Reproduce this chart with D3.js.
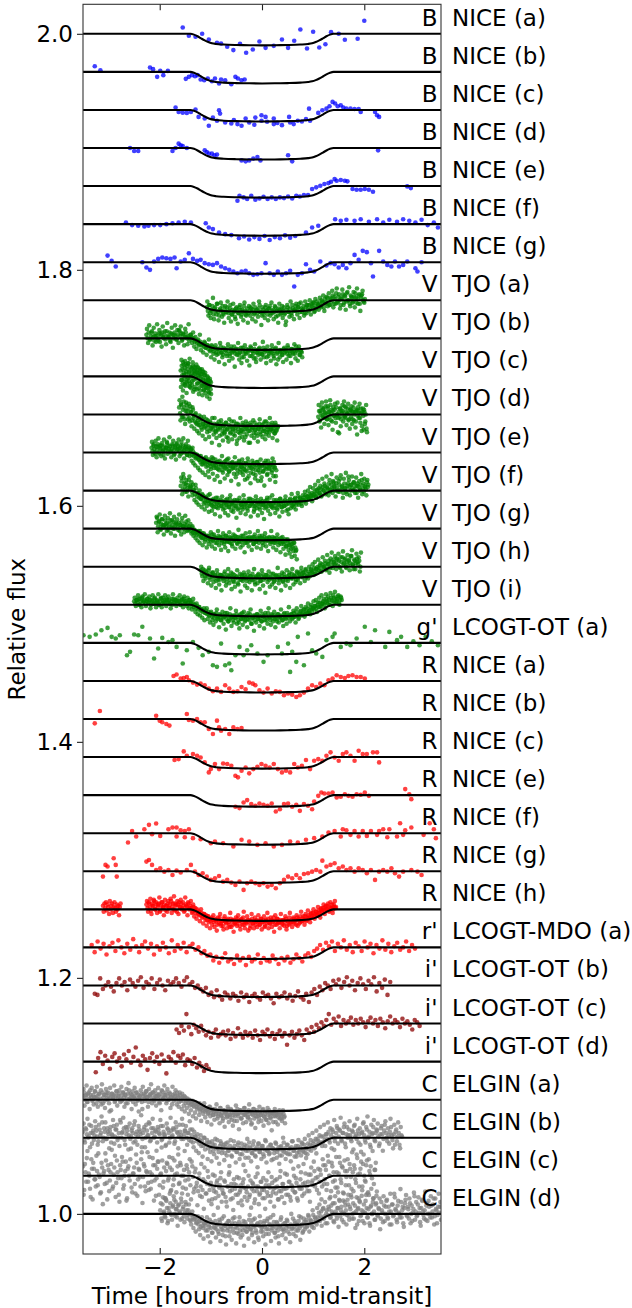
<!DOCTYPE html>
<html>
<head>
<meta charset="utf-8">
<script src="https://cdn.jsdelivr.net/npm/d3@7"></script>
<style>
  body { margin: 0; background: #fff; }
  svg { display: block; }
  text { font-family: "DejaVu Sans", sans-serif; fill: #000; }
</style>
</head>
<body>
<svg id="chart" width="632" height="1308"></svg>
<script>
// ---- Light-curve labels (top to bottom) ----
const bands = ["B","B","B","B","B","B","B",
  "V","V","V","V","V","V","V","V","V",
  "g'","R","R","R","R","R","R","R","r'","i'","i'","i'","C","C","C","C"];
const sites = ["NICE (a)","NICE (b)","NICE (c)","NICE (d)","NICE (e)","NICE (f)","NICE (g)",
  "TJO (a)","TJO (b)","TJO (c)","TJO (d)","TJO (e)","TJO (f)","TJO (g)","TJO (h)","TJO (i)",
  "LCOGT-OT (a)","NICE (a)","NICE (b)","NICE (c)","NICE (e)","NICE (f)","NICE (g)","NICE (h)",
  "LCOGT-MDO (a)","LCOGT-OT (b)","LCOGT-OT (c)","LCOGT-OT (d)",
  "ELGIN (a)","ELGIN (b)","ELGIN (c)","ELGIN (d)"];
const bandColor = { "B": "#0000ff", "V": "#008000", "g'": "#008000", "R": "#ff0000",
  "r'": "#ff0000", "i'": "#8b0000", "C": "#808080" };

// ---- Axis ticks ----
const xTicks = [-2, 0, 2];
const yTicks = [1.0, 1.2, 1.4, 1.6, 1.8, 2.0];

// ---- Best-fit transit model: hours from mid-transit, flux change (ppt) ----
const modelHours = [-3.6,-1.40,-1.33,-1.26,-1.19,-1.12,-1.05,-0.98,-0.90,-0.75,-0.50,-0.25,0,
  0.25,0.50,0.75,0.90,0.98,1.05,1.12,1.19,1.26,1.33,1.40,3.6];
const modelPpt = [0,0,-0.7,-2.1,-3.9,-5.6,-7.0,-8.0,-8.6,-9.1,-9.5,-9.7,-9.8,
  -9.7,-9.5,-9.1,-8.6,-8.0,-7.0,-5.6,-3.9,-2.1,-0.7,0,0];

// Evenly cadenced exposures: first time (h), cadence (h), flux change (ppt)
function series(start, step, ppt) { return ppt.map((f, k) => [start + k * step, f]); }

// ---- Photometry: [hours, ppt] ----
const bNiceA = [[-1.55,5.4],[-1.43,-1.7],[-1.30,-2.5],[-1.17,0],[-1.04,-4.8],[-0.88,-7.6],[-0.80,-8.2],[-0.68,-11],[-0.56,-13.8],[-0.43,-8.5],[-0.31,-16],[-0.18,-13.3],[-0.05,-6.5],[0.07,-11.9],[0.23,-10.2],[0.39,-4.8],[0.51,-11.9],[0.63,-5.9],[0.75,3.7],[0.88,-12.4],[1.00,1.7],[1.12,-11.6],[1.24,-8.8],[1.35,1.4],[1.50,0],[1.62,-5.1],[1.87,-4.2],[2.00,11]];
const bNiceB = [[-3.27,4.8],[-3.16,1.4],[-2.19,3.7],[-2.13,2.3],[-2.05,-4.2],[-1.99,0.8],[-1.93,-2.8],[-1.84,0.8],[-1.49,-5.9],[-1.43,-4.2],[-1.37,-2.8],[-1.31,-3.7],[-1.26,-2.8],[-1.20,-6.5],[-1.13,-7.1],[-1.06,-5.6],[-0.98,-7.9],[-0.92,-5.6],[-0.84,-9.9],[-0.80,-6.5],[-0.72,-7.1],[-0.60,-10.5],[-0.52,-4.2],[-0.47,-5.6],[-0.40,-7.1],[-0.34,-6.5]];
const bNiceC = [[-1.69,2],[-1.63,-1.7],[-1.55,-2.3],[-1.47,-2.5],[-1.39,-1.7],[-1.30,0.3],[-1.24,-5.9],[-1.12,-7.3],[-0.96,-6.5],[-0.84,-0.3],[-0.82,-3.1],[-1.04,-13.4],[-0.88,-9.2],[-0.72,-10.6],[-0.6,-11.5],[-0.55,-8.5],[-0.48,-12],[-0.40,-13.4],[-0.25,-10.6],[-0.15,-12.5],[-0.01,-9.2],[0.1,-10],[0.23,-12],[0.3,-11],[0.39,-12.9],[0.55,-10.6],[0.62,-12],[0.70,-9.2],[0.78,-9.8],[0.86,-7.8],[0.94,-9.2],[-0.32,-7.3],[-0.13,-6.5],[-0.01,-4.5],[0.07,-5.9],[0.23,-7.3],[0.53,-5.9],[0.92,1.1],[1.10,-2.5],[1.18,-0.3],[1.26,1.1],[1.32,3.1],[1.38,6.8],[1.43,5.4],[1.48,3.1],[1.54,4],[1.59,2],[1.65,1.1],[1.73,1.1],[1.81,0.8],[1.89,0.8],[1.93,-1.7],[2.21,-1.7],[2.25,-4.5],[2.29,-5.9]];
const bNiceD = [[-2.58,0],[-2.50,-2.5],[-2.42,-2.5],[-1.75,-2.5],[-1.69,0],[-1.63,3.7],[-1.59,2.3],[-1.55,1.7],[-1.47,0],[-1.12,-2],[-1.08,-3.4],[-1.04,-4.8],[-0.98,-4.8],[-0.93,-6.2],[-0.88,-5.6],[-0.40,-10.5],[-0.32,-11.3],[-0.25,-10.5],[-0.17,-9],[-0.09,-7.6],[-0.03,-10.5],[0.51,-6.2],[0.59,-11.3],[2.27,-2]];
const bNiceE = [[-0.48,-12.4],[-0.44,-8.2],[-0.36,-9.6],[-0.29,-11],[-0.21,-8.2],[-0.13,-11.6],[-0.05,-10.5],[0.03,-9],[0.11,-11],[0.19,-9.6],[0.27,-11],[0.35,-9.6],[0.43,-10.2],[0.51,-8.8],[0.59,-10.5],[0.67,-8.2],[0.74,-8.8],[0.82,-7.6],[0.90,-7.6],[0.98,-2.5],[1.06,-1.1],[1.14,0.3],[1.22,1.7],[1.30,2.5],[1.35,3.7],[1.42,5.9],[1.46,4.5],[1.54,5.1],[1.62,4.5],[1.67,4],[1.77,-2.5],[1.85,-3.1],[1.93,-3.1],[2.01,-2.5],[2.09,-3.1],[2.17,-4.8],[2.84,-0.3],[2.91,-1.7]];
const bNiceF = [[-2.66,1.4],[-2.54,-0.8],[-2.42,-1.4],[-2.30,-2],[-2.22,-1.4],[-2.11,-0.8],[-1.99,-0.8],[-1.87,0],[-1.75,0.8],[-1.63,1.4],[-1.51,2],[-1.39,1.4],[-1.10,0.8],[-1.04,-2.8],[-0.96,-4.2],[-0.84,-7.1],[-0.72,-8.5],[-0.60,-9.3],[-0.45,-12],[-0.35,-10.5],[-0.25,-13],[-0.15,-11],[-0.05,-12.5],[0.05,-10],[0.15,-13.5],[0.25,-11],[0.35,-12],[0.45,-9.5],[0.55,-11.5],[0.65,-10],[0.86,-7.1],[0.98,-2.8],[1.10,-1.4],[1.43,4.2],[1.54,2.8],[1.65,3.7],[1.81,2.8],[1.93,4.2],[2.09,2],[2.25,4.2],[2.37,1.4],[2.49,3.7],[2.64,2],[2.76,4.2],[2.88,2.8],[3.00,1.4],[3.12,3.7],[3.24,-0.8],[3.36,1.4],[3.44,-2.8]];
const bNiceG = [[-3.02,5.6],[-2.94,1.1],[-2.86,-3.7],[-2.34,0],[-2.26,-4.5],[-2.19,-6.5],[-2.11,0.6],[-2.03,2.8],[-1.95,4.0],[-1.87,3.4],[-1.79,2.8],[-1.71,4.0],[-1.67,-5.1],[-1.59,0.6],[-1.51,2.0],[-1.43,7.6],[-1.35,2.8],[-1.27,1.1],[-1.20,2.0],[-1.12,-0.8],[-1.04,-1.7],[-0.96,-2.3],[-0.88,-0.8],[-0.80,-3.7],[-0.72,-5.1],[-0.64,-6.5],[-0.56,-7.9],[-0.48,-9.3],[-0.40,-7.9],[-0.32,-7.3],[-0.25,-9.3],[-0.17,-10.7],[-0.09,-10.2],[-0.01,-9.3],[0.07,-0.8],[0.15,-9.3],[0.23,-10.7],[0.31,-7.9],[0.39,-10.7],[0.47,-9.3],[0.55,-7.3],[0.63,-20.6],[0.70,-10.7],[0.78,-9.3],[0.86,-1.7],[0.94,-6.5],[1.02,-7.9],[1.14,0.6],[1.26,-2.8],[1.34,-0.8],[1.42,-1.7],[1.50,-4.5],[1.58,-2.3],[1.65,-5.1],[1.73,-0.8],[1.81,6.2],[1.89,2.0],[1.97,9.6],[2.05,8.5],[2.13,-0.8],[2.17,-12.1],[2.29,9.6],[2.37,0.6],[2.45,-2.3],[2.53,-3.7],[2.60,0.6],[2.68,-3.7],[2.76,-2.3],[2.84,0.6],[3.00,-5.1],[3.04,-7.9],[3.12,0]];

const tjoA = series(-1.08, 0.022, [
  -6,-9,-4,-11,-8,-5,-12,-7,-9,-3, -10,-13,-7,-9,-5,-12,-8,-10,-6,-11,
  -9,-4,-12,-8,-10,-14,-7,-9,-11,-6, -8,-12,-10,-5,-9,-13,-7,-11,-9,-6,
  -10,-8,-12,-6,-9,-11,-7,-4,-10,-13, -8,-10,-6,-9,-12,-7,-5,-11,-9,-8,
  -10,-6,-9,-13,-7,-8,-11,-5,-9,-12, -21,-8,-6,-10,-7,-11,-4,-9,-8,-5,
  -9,-6,-3,-10,-7,-8,-5,-11,-6,-4, -7,-4,-8,-3,-6,-2,-9,-5,-1,-4,
  -3,-5,0,-2,-6,1,-3,2,-1,-4, 2,-1,4,-3,1,6,-2,3,0,-4,
  1,5,-2,3,-1,7,0,-3,4,2, -1,3,6,-2,1,4,-3,2,5,0, -2])
  .concat(series(-1.069, 0.022, [
  -1,-13,-4,-15,-9,2,-16,-6,-12,-3, -17,-8,-2,-14,-11,-19,-5,-10,-1,-15,
  -7,-18,-12,-3,-9,-16,-6,-20,-11,-4, -14,-8,-17,-2,-12,-10,-19,-5,-13,-7,
  -16,-3,-11,-18,-8,-14,-1,-10,-21,-6, -12,-15,-4,-9,-17,-7,-13,-2,-11,-16,
  -5,-14,-9,-19,-3,-12,-8,-15,-6,-11, -18,-4,-10,-14,-1,-13,-7,-16,-9,-3,
  -12,-6,-15,-2,-10,-8,-13,-1,-11,-4, -9,0,-12,-5,-2,-10,1,-7,-3,-8,
  2,-6,-1,4,-9,-2,3,-5,6,-4, 1,8,-6,3,-3,10,-1,5,-7,2,
  9,-4,4,-8,6,0,11,-5,3,-2, 7,-6,2,10,-3,5,-9,4,8,-1, 1]));
const tjoB = series(-2.26, 0.022, [
  3,0,5,-1,2,6,1,-2,4,2, 0,4,-3,2,5,1,3,-1,6,2, 1,-2,4,3,0,5,2,-1,3,7,
  2,4,-1,3,1,5,0,2,-2,3, 1,-1,0,-3,-2,-4,-1,-5,-3,-6, -5,-7,-4,-8,-6,-9,-7,-10,-6,-9,
  -11,-8,-12,-9,-13,-10,-7,-12,-14,-9, -10,-13,-8,-11,-15,-9,-12,-10,-7,-13,
  -11,-9,-14,-12,-8,-16,-10,-13,-11,-9, -12,-10,-15,-8,-11,-13,-9,-17,-12,-10,
  -9,-13,-11,-14,-8,-12,-10,-16,-11,-13, -10,-12,-9,-15,-11,-8,-13,-18,-10,-12,
  -11,-14,-9,-12,-10,-13,-8,-11,-15,-9, -12,-10,-13,-7,-11,-9,-14,-10,-12])
  .concat(series(-2.249, 0.022, [
  8,-4,11,-1,5,-6,9,2,-3,12, -2,7,4,-7,10,0,6,-5,13,1, 5,-3,9,-8,3,11,-1,7,-4,6,
  10,-2,4,-6,8,1,-5,12,0,3, -4,5,-7,1,-9,-2,-6,3,-10,-5, -12,-3,-8,-14,-6,-1,-11,-16,-7,-13,
  -18,-6,-14,-9,-20,-4,-12,-16,-8,-22, -10,-15,-5,-19,-13,-7,-17,-11,-24,-9,
  -14,-4,-18,-12,-21,-8,-16,-6,-13,-19, -10,-23,-7,-15,-11,-17,-5,-20,-12,-14,
  -8,-18,-13,-3,-16,-10,-21,-7,-15,-11, -19,-6,-13,-17,-9,-22,-12,-4,-16,-10,
  -14,-20,-8,-11,-18,-6,-15,-12,-21,-9, -13,-5,-17,-10,-19,-7,-14,-11,-16]));
const tjoC = series(-1.59, 0.01, [
  5,-3,9,1,-6,12,3,-2,7,-8, 10,2,-5,6,-1,11,-4,4,-9,8, 0,6,-7,3,9,-3,5,-11,2,7,
  -2,4,-6,8,1,-10,3,-4,6,-1, -5,2,-8,4,-3,-12,1,-6,3,-9, -4,-7,0,-10,-3,-6,-14,-2,-8,-5])
  .concat(series(-1.585, 0.01, [
  -9,14,-3,6,-12,10,1,-7,13,-5, 4,-14,9,-2,11,-8,3,15,-6,0, -10,7,-4,12,-13,2,8,-9,5,-1,
  10,-11,3,-6,7,-15,0,5,-12,2, -8,6,-16,-2,4,-11,-7,1,-14,-3, -10,-17,-5,-1,-13,-8,-19,-4,-11,-15]));
const tjoD = series(-1.62, 0.018, [
  6,1,9,-2,4,11,-4,3,8,0, 5,-3,7,2,-5,4,-1,-6,1,-8, -3,-9,-1,-6,-11,-4,-8,-2,-10,-7,
  -12,-5,-9,-14,-7,-11,-3,-13,-8,-10, -15,-9,-12,-6,-18,-11,-8,-14,-10,-16,
  -12,-7,-13,-20,-9,-11,-15,-6,-12,-17, -10,-14,-8,-22,-12,-9,-16,-11,-13,-7,
  -15,-10,-19,-12,-8,-14,-11,-24,-9,-13, -11,-16,-7,-13,-10,-18,-12,-8,-15,-11,
  -9,-14,-12,-6,-17,-10,-13,-8,-15,-11, -12,-7,-14,-10,-16,-9,-13,-11])
  .concat(series(-1.611, 0.018, [
  12,-5,8,15,-2,6,-8,10,3,-4, 9,-6,2,-10,6,-3,-12,0,-7,-14, -5,-16,-9,-2,-13,-18,-8,-11,-21,-4,
  -15,-9,-19,-6,-12,-24,-10,-17,-3,-14, -20,-8,-13,-26,-11,-5,-17,-22,-9,-15,
  -7,-19,-12,-23,-4,-16,-10,-21,-13,-6, -18,-11,-25,-8,-15,-20,-3,-14,-19,-9,
  -22,-12,-6,-17,-10,-24,-14,-7,-18,-11, -5,-20,-13,-16,-9,-23,-12,-4,-17,-10,
  -19,-8,-14,-21,-6,-15,-11,-18,-3,-13, -9,-20,-12,-16,-7,-14,-22,-10]))
  .concat(series(1.10, 0.016, [
  -2,3,-5,1,6,-1,4,-3,2,7, 0,-4,5,2,-2,8,1,-6,3,-1, 4,-3,6,0,-15,2,-2,5,-4,1,
  3,-1,7,-3,2,0,5,-5,1,4, -2,3,-4,6,0,2,-6,4,-1,3, 1,-3,5,-14,2,-1,4,-8,0,-12]))
  .concat(series(1.108, 0.016, [
  8,-6,3,-11,10,-2,5,-8,1,11, -4,7,-9,2,12,-5,4,-13,6,-1, 9,-7,0,10,-3,-16,5,-10,3,8,
  -6,11,-2,6,-9,1,9,-4,-12,4, 7,-8,2,-5,10,-11,3,-17,6,-3, 9,-7,1,-10,5,-13,2,-6,8,-15]));
const tjoE = series(-2.16, 0.018, [
  4,1,6,3,-1,5,2,7,0,4, 3,6,1,-2,5,2,4,8,1,3, 5,0,3,6,2,-1,4,7,2,5,
  1,4,-1,3,6,2,0,5,3,-2, 2,4,0,3,-2,1,-3,-1,-5,-2, -4,-6,-3,-8,-5,-7,-10,-6,-9,-4,
  -8,-11,-6,-9,-12,-7,-10,-5,-13,-9, -11,-8,-14,-10,-7,-12,-9,-15,-11,-8,
  -13,-10,-6,-12,-16,-9,-11,-14,-8,-12, -10,-13,-9,-18,-11,-7,-14,-10,-12,-16,
  -9,-12,-15,-10,-22,-8,-13,-11,-17,-10, -14,-9,-12,-19,-11,-8,-15,-10,-13,-24,
  -11,-16,-9,-13,-7,-12,-18,-10,-14,-11, -9,-15,-12,-8,-13,-20])
  .concat(series(-2.151, 0.018, [
  9,-2,7,0,10,-4,5,12,-1,6, -3,8,2,11,-5,4,9,-1,6,13, 1,-4,7,10,-2,5,-6,8,3,11,
  -3,6,9,0,12,-5,4,7,-2,10, 5,-3,2,-7,4,-9,-1,-11,-4,-2, -13,-6,-15,-3,-10,-17,-8,-5,-19,-12,
  -7,-16,-21,-9,-14,-4,-18,-11,-23,-6, -13,-20,-8,-15,-25,-10,-3,-17,-12,-22,
  -7,-14,-19,-5,-16,-11,-24,-9,-13,-18, -4,-21,-10,-15,-27,-8,-17,-12,-6,-19,
  -14,-23,-9,-16,-5,-20,-11,-26,-13,-7, -18,-10,-22,-15,-8,-24,-12,-17,-6,-21,
  -11,-16,-28,-9,-14,-19,-7,-13,-23,-10, -17,-5,-20,-12,-25,-15]));
const tjoF = series(-1.59, 0.02, [
  4,8,1,11,3,6,-1,5,9,2, 3,-1,5,0,-3,2,-5,-2,-6,-4, -7,-3,-8,-5,-10,-6,-9,-4,-11,-8,
  -10,-13,-7,-11,-9,-14,-6,-12,-10,-8, -13,-9,-11,-15,-8,-12,-10,-14,-7,-11,
  -12,-9,-15,-10,-13,-8,-16,-11,-9,-12, -14,-10,-8,-12,-11,-15,-9,-13,-7,-11,
  -10,-13,-16,-9,-12,-8,-11,-14,-10,-12, -9,-12,-15,-11,-8,-13,-10,-6,-12,-14,
  -11,-8,-13,-10,-15,-9,-12,-7,-11,-14, -10,-13,-8,-12,-9,-16,-11,-7,-10,-13,
  -8,-11,-6,-12,-9,-5,-10,-7,-11,-8, -6,-9,-4,-8,-5,-7,-3,-6,-2,-5,
  -4,-1,-5,0,-3,2,-2,1,-4,3, 0,4,-2,3,1,6,-1,5,2,8, 3,0,6,2,-1,5,10,1,4,-2,
  6,2,-1,4,12,3,0,5,2,7, 1,4,-2,6,3,0,5,9,2,-1, 4,1,7,3])
  .concat(series(-1.58, 0.02, [
  11,-3,14,6,-1,9,2,-5,12,4, 7,-4,1,-8,5,-10,-2,-12,0,-7, -14,-4,-11,-16,-6,-13,-9,-18,-3,-12,
  -17,-8,-14,-20,-6,-11,-15,-9,-22,-13, -5,-16,-10,-19,-12,-7,-21,-14,-4,-17,
  -11,-18,-8,-13,-23,-9,-15,-6,-19,-12, -16,-4,-14,-20,-10,-17,-7,-13,-22,-11,
  -8,-18,-13,-5,-15,-21,-10,-16,-7,-19, -12,-24,-9,-14,-6,-17,-11,-20,-13,-4,
  -15,-10,-19,-8,-16,-12,-22,-7,-14,-18, -9,-13,-5,-17,-11,-20,-8,-15,-3,-12,
  -14,-7,-16,-10,-2,-12,-6,-9,-13,-4, -8,-1,-11,-5,0,-7,3,-4,-9,2,
  -3,5,-6,1,8,-2,4,-5,10,0, 6,-3,12,2,-4,9,1,14,-2,7, 4,-5,11,0,8,-1,13,3,-6,10,
  2,15,-3,6,9,-4,5,12,0,7, -2,11,4,-6,8,1,14,-3,6,10, 3,-4,9,5]));
const tjoG = series(-2.07, 0.02, [
  5,9,2,6,0,4,8,1,3,7, 2,5,-1,4,7,1,3,6,0,3, 4,1,5,-2,3,6,2,0,4,1,
  3,-1,2,0,-2,1,-3,-1,-4,-2, -5,-3,-6,-2,-7,-4,-8,-5,-9,-6, -7,-10,-6,-8,-11,-5,-9,-7,-12,-8,
  -9,-6,-10,-8,-12,-7,-9,-11,-6,-10, -8,-11,-7,-9,-13,-8,-10,-6,-9,-12,
  -7,-10,-8,-11,-9,-6,-10,-12,-8,-9, -11,-7,-9,-8,-10,-13,-7,-9,-11,-8,
  -9,-6,-10,-8,-12,-9,-7,-11,-8,-10, -10,-8,-11,-9,-7,-12,-9,-10,-8,-11,
  -9,-12,-8,-10,-11,-13,-9,-15,-10,-12, -14,-11,-17,-13,-19,-12,-16,-18])
  .concat(series(-2.06, 0.02, [
  10,-3,6,12,-1,8,3,-5,11,4, -2,9,1,13,-4,7,0,10,-6,5, 8,-1,12,3,-5,9,2,-3,11,6,
  -2,7,0,4,-4,2,-6,-1,-8,-3, -10,-2,-12,-5,-8,-14,-4,-11,-7,-16, -6,-13,-9,-3,-15,-10,-5,-17,-8,-12,
  -2,-14,-7,-18,-10,-4,-13,-16,-6,-11, -19,-3,-12,-8,-15,-5,-10,-17,-7,-13,
  -1,-11,-16,-6,-14,-9,-20,-4,-12,-8, -15,-3,-10,-18,-7,-13,-5,-11,-16,-2,
  -12,-8,-17,-6,-14,-10,-4,-15,-9,-19, -7,-13,-2,-11,-16,-8,-12,-18,-5,-14,
  -10,-20,-13,-7,-17,-11,-22,-15,-9,-18, -21,-14,-24,-16,-12,-23,-19,-26]));
const tjoH = series(-1.20, 0.022, [
  -3,-6,-2,-5,-8,-4,-7,-3,-9,-6, -8,-5,-10,-7,-12,-6,-9,-11,-7,-8,
  -10,-6,-9,-13,-7,-8,-11,-5,-9,-12, -7,-10,-8,-14,-9,-6,-11,-8,-10,-7,
  -9,-12,-7,-10,-8,-11,-6,-9,-13,-8, -10,-7,-9,-12,-8,-6,-11,-9,-7,-10,
  -8,-11,-9,-6,-10,-13,-8,-7,-11,-9, -7,-10,-8,-12,-6,-9,-11,-8,-10,-5,
  -9,-6,-10,-7,-8,-11,-5,-9,-7,-4, -8,-5,-7,-3,-9,-6,-4,-8,-2,-5,
  -4,-1,-6,-2,0,-3,1,-4,2,-1, 0,3,-2,2,5,-1,4,1,6,2, 3,7,1,5,-1,4,8,2,6,0,
  4,1,6,3,9,2,-2,5,3,7, 2,5,0])
  .concat(series(-1.189, 0.022, [
  0,-8,-12,-3,-10,-6,-14,-1,-11,-16, -5,-13,-8,-18,-3,-11,-15,-7,-20,-9,
  -12,-4,-16,-10,-2,-14,-8,-19,-6,-13, -17,-9,-3,-15,-11,-21,-7,-12,-5,-16,
  -10,-18,-4,-13,-8,-20,-11,-2,-15,-9, -14,-6,-19,-12,-3,-16,-9,-22,-7,-13,
  -4,-17,-10,-15,-6,-12,-18,-8,-1,-14, -11,-20,-5,-13,-9,-16,-3,-12,-7,-18,
  -10,-2,-15,-8,-13,-4,-11,-6,-14,-1, -9,-5,-12,-2,-8,-10,0,-6,-3,2,
  -7,4,-2,-5,6,-1,3,-4,8,0, 5,-3,10,2,-5,7,12,-1,4,9, -2,6,11,0,8,-4,13,3,7,-1,
  10,5,-3,9,14,1,6,-2,11,4, 8,-4,12]));
const tjoI = series(-2.50, 0.022, [
  3,1,4,2,5,0,3,6,2,4, 1,3,5,2,4,0,3,1,5,2, 4,2,0,3,6,1,3,4,2,5,
  2,4,1,3,0,5,2,4,3,1, 3,0,4,2,5,1,3,-1,2,4, 1,-1,2,-2,0,-3,-1,-4,-2,-5,
  -4,-6,-3,-7,-5,-8,-6,-9,-7,-10, -8,-11,-9,-7,-12,-10,-8,-13,-9,-11,
  -10,-7,-12,-9,-14,-8,-11,-10,-13,-9, -11,-8,-10,-15,-9,-12,-7,-11,-10,-13,
  -9,-12,-10,-8,-16,-11,-9,-13,-10,-8, -12,-9,-11,-14,-8,-10,-13,-9,-11,-7,
  -10,-13,-8,-11,-9,-12,-10,-14,-8,-11, -9,-11,-13,-8,-10,-12,-7,-11,-9,-10,
  -8,-11,-7,-10,-6,-9,-12,-8,-5,-9, -7,-4,-8,-6,-3,-7,-5,-2,-6,-3,
  -4,-1,-3,0,-2,2,-1,1,3,0, 2,5,1,4,0,6,3,8,2,5, 3,7,1,4,6])
  .concat(series(-2.489, 0.022, [
  6,-1,4,8,0,5,-2,7,3,9, -1,5,2,7,-3,4,8,1,6,-2, 3,9,0,5,-2,6,2,8,-1,4,
  7,1,-3,5,9,2,4,-1,6,3, 8,0,5,-2,7,3,1,6,-3,4, 2,-4,5,0,-6,1,-8,-2,-9,-4,
  -11,-5,-13,-7,-3,-12,-9,-15,-6,-13, -17,-8,-14,-4,-11,-19,-9,-13,-6,-16,
  -10,-21,-7,-14,-12,-3,-18,-9,-15,-11, -5,-16,-13,-20,-8,-12,-17,-6,-14,-10,
  -19,-7,-13,-4,-16,-11,-22,-9,-15,-8, -12,-18,-5,-14,-10,-20,-7,-13,-16,-3,
  -11,-17,-9,-14,-6,-19,-12,-8,-15,-10, -4,-13,-18,-7,-11,-16,-9,-2,-14,-8,
  -12,-5,-10,-15,-3,-9,-11,-6,-1,-8, -4,-10,-2,-7,1,-5,-8,0,-3,3,
  -1,4,-6,2,6,-2,8,1,5,-3, 9,3,7,0,10,4,-1,6,11,2, 5,8,0,7,4]));

const otA = [[-3.49,6.5],[-3.37,5.1],[-3.25,7.1],[-3.14,10.7],[-3.02,12.7],[-2.94,5.1],[-2.86,3.7],[-2.78,6.5],[-2.64,-10.5],[-2.58,-7.6],[-2.50,7.1],[-2.42,6.5],[-2.34,13.6],[-2.19,3.7],[-2.11,-13.3],[-2.03,-4.8],[-1.95,4.2],[-1.83,0.8],[-1.75,2.3],[-1.67,-3.4],[-1.55,-17.5],[-1.47,-6.2],[-1.35,0.8],[-1.24,-4.2],[-1.16,-10.5],[-1.04,-7.6],[-0.96,-18.9],[-0.88,-20.3],[-0.80,-0.6],[-0.72,-18.9],[-0.64,-17.5],[-0.60,-23.2],[-0.52,-10.5],[-0.44,-3.4],[-0.36,-10.5],[-0.29,-6.2],[-0.21,-2.0],[-0.09,-9.0],[0.03,-16.1],[0.11,-10.5],[0.31,-3.4],[0.39,-9.0],[0.51,-0.6],[0.55,-24.6],[0.59,-7.6],[0.67,-16.1],[0.70,5.1],[0.82,-18.9],[0.90,7.9],[0.98,-6.2],[1.06,-9.0],[1.18,-11.9],[1.26,2.3],[1.38,5.1],[1.42,7.9],[1.54,-3.4],[1.65,-0.6],[1.73,-2.0],[1.85,3.7],[2.01,13.6],[2.13,0.8],[2.21,10.7],[2.41,-3.4],[2.49,9.3],[2.64,2.3],[2.72,5.1],[2.84,-3.4],[2.96,1.4],[3.08,-2.0],[3.20,5.1],[3.32,1.4],[3.44,-2.0]];
const rNiceA = [[-1.73,4.2],[-1.67,5.4],[-1.59,2.0],[-1.53,2.5],[-1.47,3.4],[-1.43,0.6],[-1.35,-1.4],[-1.27,-3.1],[-1.20,-2.3],[-1.12,-3.7],[-1.04,-6.5],[-0.96,-8.8],[-0.88,-6.5],[-0.80,-9.3],[-0.72,-3.7],[-0.64,-6.5],[-0.56,-9.3],[-0.48,-8.8],[-0.40,-5.1],[-0.32,-7.1],[-0.25,-1.4],[-0.18,-2.3],[-0.13,-3.7],[-0.05,-7.9],[0.03,-9.9],[0.11,-6.5],[0.19,-10.7],[0.27,-8.8],[0.35,-9.3],[0.43,-12.1],[0.51,-10.7],[0.59,-11.6],[0.67,-13.6],[0.74,-12.1],[0.82,-9.9],[0.90,-6.5],[0.98,-3.7],[1.06,-5.1],[1.14,-2.3],[1.22,-3.7],[1.30,0.6],[1.38,2.0],[1.46,4.8],[1.54,3.4],[1.62,2.5],[1.69,4.2],[1.77,4.8],[1.85,3.4],[1.93,3.4],[2.01,2.0]];
const rNiceB = [[-3.17,6.8],[-3.27,-3.7],[-2.07,2.8],[-2.00,-1.4],[-1.95,-2.8],[-1.87,-4.2],[-1.81,-5.6],[-1.47,4.2],[-1.43,-0.8],[-1.35,-1.4],[-1.27,0],[-1.20,-2.8],[-1.12,-2.8],[-1.04,-8.5],[-0.96,-12.7],[-0.88,-1.4],[-0.84,-7.1],[-0.80,-9.9],[-0.72,-8.5],[-0.64,-12.7],[-0.56,-7.1],[-0.48,-8.5],[-0.40,-7.6]];
const rNiceC = [[-1.71,-2.5],[-1.63,-1.7],[-1.53,4.8],[-1.47,1.1],[-1.35,2.5],[-1.27,1.1],[-1.20,-0.3],[-1.12,-4.5],[-1.04,-13.0],[-1.00,-10.2],[-0.92,-5.9],[-0.84,-10.2],[-0.76,-5.4],[-0.68,-5.9],[-0.60,-7.3],[-0.52,-15.8],[-0.47,-17.2],[-0.40,-11.6],[-0.32,-8.8],[-0.25,-13.8],[-0.17,-10.2],[-0.09,-8.2],[-0.01,-5.9],[0.07,-7.3],[0.15,-8.8],[0.23,-5.9],[0.31,-10.2],[0.39,-13.0],[0.47,-11.6],[0.55,-13.0],[0.63,-5.9],[0.70,-8.8],[0.78,-7.3],[0.86,-2.5],[0.94,-10.2],[1.02,-3.1],[1.10,-1.7],[1.18,-3.1],[1.26,1.1],[1.34,4.0],[1.42,-0.3],[1.50,-3.1],[1.58,2.5],[1.65,4.0],[1.73,1.1],[1.81,-3.1],[1.89,5.4],[1.97,2.5],[2.05,2.5],[2.17,4.0],[2.25,4.0],[2.29,-4.5]];
const rNiceE = [[-0.52,-9.9],[-0.44,-11.0],[-0.36,-6.2],[-0.29,-4.2],[-0.21,-7.6],[-0.13,-9.0],[-0.05,-7.1],[0.03,-8.2],[0.11,-9.0],[0.19,-7.1],[0.27,-13.8],[0.35,-11.9],[0.43,-7.6],[0.51,-7.1],[0.59,-9.9],[0.67,-8.2],[0.74,-13.3],[0.82,-7.6],[0.90,-9.0],[0.98,-11.9],[1.02,-5.4],[1.10,-0.6],[1.16,2.3],[1.22,1.4],[1.30,1.4],[1.38,2.3],[1.46,-2.0],[1.54,-1.4],[1.62,0.8],[1.69,-0.6],[1.77,-1.4],[1.85,0.8],[1.93,0.3],[2.01,2.3],[2.09,-0.6],[2.80,5.1],[2.88,0.8],[2.92,-3.4]];
const rNiceF = [[-2.54,1.9],[-2.30,3.4],[-2.21,7.1],[-2.07,8.2],[-1.83,3.4],[-1.75,4.8],[-1.67,4.8],[-1.59,2.5],[-1.51,1.9],[-1.43,3.4],[-2.62,-7.9],[-2.46,-2.8],[-2.15,-0.8],[-1.99,-2.3],[-1.67,-2.8],[-1.51,-3.4],[-1.35,-4.2],[-1.20,-5.1],[-1.00,-8.5],[-0.92,-7.1],[-0.76,-8.5],[-0.56,-11.3],[-0.40,-5.6],[-0.25,-7.1],[-0.09,-9.9],[0.07,-8.5],[0.23,-11.3],[0.39,-9.9],[0.55,-7.1],[0.70,-7.9],[0.86,-5.6],[1.02,-4.2],[1.18,-2.8],[1.30,0.6],[1.42,1.9],[1.54,-2.8],[1.58,3.4],[1.65,2.5],[1.73,-1.4],[1.81,1.9],[1.89,-2.8],[1.97,1.9],[2.05,-2.3],[2.13,1.9],[2.25,-1.4],[2.29,1.9],[2.37,3.4],[2.45,-3.4],[2.49,3.4],[2.64,-2.8],[2.70,8.5],[2.76,-1.4],[2.80,2.5],[2.92,4.8],[3.16,-1.4],[3.28,8.5],[3.36,3.4],[3.40,-4.2]];
const rNiceG = [[-3.11,-4.5],[-3.06,5.4],[-3.02,4.0],[-2.90,11.0],[-2.86,5.4],[-2.84,-4.5],[-2.26,8.2],[-2.21,9.6],[-2.15,5.4],[-2.07,1.1],[-1.99,2.5],[-1.91,-0.3],[-1.83,1.1],[-1.75,-3.1],[-1.67,0.6],[-1.59,-1.1],[-1.47,1.1],[-1.39,5.4],[-1.31,-0.3],[-1.24,-3.1],[-1.16,-1.7],[-1.08,-4.5],[-1.00,-7.3],[-0.92,-5.9],[-0.84,-4.0],[-0.76,-8.8],[-0.68,-7.3],[-0.60,-9.6],[-0.52,-11.6],[-0.44,-8.8],[-0.36,-15.8],[-0.29,-10.2],[-0.21,-8.8],[-0.13,-10.2],[-0.05,-11.6],[0.03,-10.2],[0.11,-13.0],[0.19,-11.6],[0.27,-14.4],[0.35,-10.2],[0.43,-7.3],[0.51,-4.5],[0.59,-5.9],[0.67,-3.1],[0.74,-5.9],[0.82,-2.3],[0.90,-1.7],[0.98,-0.3],[1.06,1.1],[1.14,-0.3],[1.18,9.0],[1.26,4.0],[1.34,5.4],[1.42,6.8],[1.50,2.5],[1.58,4.0],[1.65,1.1],[1.73,2.5],[1.81,-0.3],[1.89,2.5],[1.97,1.1],[2.05,-1.7],[2.13,1.1],[2.21,-7.3],[2.29,-0.3],[2.37,1.1],[2.45,-0.3],[2.53,2.5],[2.60,-1.7],[2.68,-4.5],[2.76,-0.3],[2.92,1.1],[3.04,-0.3],[3.12,-3.1]];
const rNiceH = series(-3.11, 0.015, [
  3,-2,5,1,6,-1,4,2,-4,7,0,3,5,-3,2,6,1,-2,4,0,3,-5,2,5])
  .concat(series(-2.26, 0.022, [
  4,1,6,2,-1,5,3,7,0,4, 2,5,-2,3,6,1,4,-1,3,5, 1,4,7,2,0,5,3,-2,4,6,
  2,5,1,3,-1,4,2,6,0,3, 1,-2,2,-1,-3,0,-4,-2,-5,-3, -6,-4,-7,-5,-9,-6,-8,-10,-7,-9,
  -11,-8,-10,-13,-9,-7,-12,-10,-14,-8, -10,-12,-9,-11,-15,-8,-10,-13,-9,-11,
  -12,-8,-10,-14,-9,-11,-7,-13,-10,-12, -9,-11,-16,-10,-8,-12,-10,-13,-9,-11,
  -10,-13,-8,-11,-9,-15,-10,-12,-8,-11, -12,-9,-11,-7,-13,-10,-8,-12,-11,-9,
  -10,-13,-9,-11,-8,-14,-10,-7,-12,-9, -11,-8,-10,-13,-7,-9,-12,-6,-10,-8,
  -9,-6,-10,-7,-5,-8,-4,-7,-3,-6, -4,-2,-5,-1,-3,0,-2,1,-1,2, 0,3,-1,2,1,4,0,2,1]))
  .concat(series(-2.249, 0.022, [
  7,-2,5,9,-4,3,8,0,6,-3, 4,10,-1,6,2,-5,8,3,-2,7, 1,9,-3,5,11,-1,4,7,-4,2,
  8,0,6,-2,10,3,-5,5,1,7, -3,4,-6,1,-8,-2,-5,-10,0,-7, -12,-4,-9,-14,-6,-11,-16,-8,-13,-5,
  -15,-9,-18,-7,-12,-4,-14,-10,-17,-6, -11,-16,-8,-13,-3,-15,-9,-19,-12,-7,
  -14,-5,-10,-17,-8,-13,-2,-16,-11,-6, -18,-9,-14,-4,-12,-16,-7,-10,-15,-5,
  -13,-8,-17,-11,-6,-14,-9,-3,-16,-12, -7,-15,-10,-19,-5,-13,-8,-11,-16,-4,
  -12,-9,-14,-6,-17,-10,-13,-3,-11,-15, -7,-12,-9,-5,-14,-8,-11,-2,-10,-6,
  -13,-4,-9,-1,-7,-11,-3,-6,0,-8, -2,-5,2,-3,-7,1,-1,4,-4,3, 0,5,-2,6,1,-3,4,7,2]));

const mdoA = series(-3.33, 0.058, [
  2,-4,5,-1,3,-6,1,4,-3,6, 0,-5,3,-2,7,1,-4,2,5,-1, 3,-6,1,-2,4,0,-5,6,-3,2,
  -1,4,-4,1,3,-2,0,-5,-3,-7, -6,-11,-8,-13,-9,-5,-12,-10,-14,-7, -11,-9,-15,-8,-12,-10,-6,-13,-9,-11,
  -12,-7,-10,-14,-9,-11,-8,-13,-10,-6, -9,-12,-7,-5,-8,-3,-1,2,-2,4, 1,5,-3,3,0,6,-2,2,-4,4,
  1,-3,5,0,3,-5,2,-1,6,-2, 3,-4,1,4,-2,0,5,-3,2,-1]);
const otB = series(-3.27, 0.053, [
  -7,-8,6,-3,0,3,-1,-5,2,6, 0,3,-4,5,2,-1,4,7,-2,3, 1,6,-3,2,5,0,-4,4,1,3,
  6,2,-1,4,7,1,3,-2,0,-3, -5,-2,-8,-6,-10,-4,-9,-12,-6,-8, -11,-7,-9,-13,-6,-10,-8,-14,-9,-7,
  -10,-12,-6,-9,-8,-11,-15,-7,-10,-9, -6,-11,-8,-13,-9,-5,-10,-12,-7,-14,
  -6,-3,-8,-1,-4,2,0,-3,4,1, 5,-2,3,7,0,4,-4,2,6,1, -3,4,1,7,-5,2,-2,5,-8,3]);
const otC = series(-1.67, 0.048, [
  -5,-8,-2,-6,8,-3,-9,-1,-4,-7, -2,-6,-10,-7,-12,-8,-5,-11,-9,-7,
  -10,-6,-13,-8,-11,-4,-9,-12,-7,-10, -8,-12,-6,-10,-14,-7,-9,-5,-11,-8,
  -13,-9,-6,-11,-8,-18,-10,-7,-12,-9, -6,-10,-14,-5,-8,-3,-7,-1,-4,1,
  -2,3,8,-1,4,1,6,-2,3,0, 2,5,-1,3,0,4,1,-3,2,5, 0,3,-2,4,1,-4,2,6,0,3, 1,-3,4,0,2,-1,-5,3,1,-2]);
const otD = series(-3.25, 0.046, [
  -9,3,8,-2,5,1,-6,4,7,0, 3,-4,6,2,9,-1,4,12,1,-3, 5,2,-7,3,7,0,4,-2,6,1,
  -10,4,2,8,-1,5,3,6,-3,2, 1,-2,3,-5,-1,-4,-8,-3,-6]);

const elginA = series(-3.50, 0.02, [
  3,6,0,4,-2,5,1,8,2,-1, 4,2,7,-3,3,0,5,1,-4,6, 2,-1,4,6,0,3,-10,2,5,1,
  4,-2,3,7,1,5,0,3,-1,6, 2,4,-3,1,5,8,0,2,4,-2, 3,1,6,-1,4,2,0,5,-8,3,
  1,4,7,2,-2,3,5,0,6,2, -1,3,5,1,4,-3,2,8,0,4, 2,6,-1,3,0,5,2,-4,4,1,
  3,0,6,2,-2,4,1,5,-1,3, 2,-1,1,-3,0,-2,-4,-1,-5,-3, -2,-6,-4,-7,-3,-8,-5,-9,-6,-10,
  -7,-9,-12,-8,-6,-11,-9,-13,-10,-8, -12,-9,-14,-10,-7,-13,-11,-16,-9,-12,
  -10,-14,-8,-12,-15,-9,-11,-13,-18,-10, -12,-8,-14,-11,-9,-16,-10,-13,-7,-12,
  -11,-15,-9,-12,-10,-20,-13,-8,-11,-14, -9,-12,-16,-10,-13,-11,-8,-14,-12,-17,
  -10,-13,-9,-15,-11,-12,-19,-10,-14,-12, -11,-15,-9,-13,-16,-10,-12,-14])
  .concat(series(-3.49, 0.02, [
  9,-5,3,12,-2,6,-8,4,10,0, -4,7,2,11,-6,5,-1,8,13,-3, 4,-7,9,1,6,-3,10,-9,5,2,
  12,-1,7,-5,3,8,-2,11,0,6, -6,4,9,-3,14,1,5,-8,7,2, 10,-4,6,0,-10,3,8,-2,11,5,
  -1,7,2,-6,9,4,13,-3,6,0, 8,-5,3,10,-2,5,-9,7,1,12, 4,-3,9,0,6,-7,2,11,-1,5,
  8,-4,3,-6,6,-1,-8,2,-5,-10, -3,-7,0,-12,-5,-9,-2,-14,-6,-11,
  -16,-8,-4,-13,-10,-18,-7,-12,-3,-15, -9,-19,-11,-6,-14,-21,-8,-13,-17,-10,
  -4,-16,-12,-20,-7,-14,-18,-9,-23,-11, -15,-6,-19,-13,-8,-17,-22,-10,-14,-5,
  -18,-12,-25,-9,-16,-11,-20,-7,-13,-19, -10,-15,-4,-17,-21,-12,-8,-16,-24,-11,
  -14,-19,-6,-13,-18,-9,-22,-15,-10,-17, -7,-20,-12,-16,-26,-11,-14,-8,-19,-13,
  -21,-10,-16,-12,-18,-9,-15,-20]));
const elginB = series(-3.50, 0.025, [
  5,-2,8,3,0,11,4,-5,6,2, 9,1,-3,7,4,13,0,5,-1,8, 3,6,-4,2,10,1,7,-2,4,15,
  0,5,8,-6,3,9,2,-1,6,4, 11,-3,5,1,7,3,-8,4,9,0, 6,2,12,-2,4,8,1,5,-4,7,
  3,10,-1,5,2,-6,8,4,0,6, 2,7,-3,9,4,1,5,-1,11,3, 6,0,4,-2,7,2,-4,5,1,-3,
  -1,-5,2,-3,-7,0,-6,-2,-9,-4, -8,-3,-11,-6,-9,-2,-12,-7,-5,-10,
  -6,-13,-8,-4,-11,-7,-15,-9,-3,-10, -12,-6,-9,-14,-5,-10,-8,-17,-7,-11,
  -4,-9,-13,-6,-10,-16,-8,-5,-12,-9, -7,-14,-10,-3,-11,-8,-13,-6,-9,-18,
  -10,-5,-12,-8,-15,-7,-11,-4,-9,-13, -6,-10,-14,-8,-3,-11,-9,-16,-7,-12,
  -8,-4,-11,-6,-13,-9,-5,-10,-2,-7, -5,-9,-1,-6,-3,2,-4,-7,1,-2,
  3,-1,5,-4,2,7,0,-3,4,8, 1,6,-2,4,9,-5,3,0,7,2, -3,5,10,1,-1,6,3,-6,4,12,
  2,-4,7,0,5,-8,3,9,-2,4, 6,1,-5,8,3,-1,11,4,-3,2, 5,9,-2,3,-6,7,1,4,-9,2])
  .concat(series(-3.4875, 0.025, [
  12,-4,7,16,1,-8,10,4,-2,14, 6,-6,11,2,18,-3,8,13,-1,5, -9,9,3,15,-5,7,11,0,-7,13,
  4,17,-2,9,6,-10,12,1,8,-4, 14,3,-6,10,5,19,-1,7,-8,11, 2,13,-3,8,16,0,6,-11,9,4,
  15,-2,10,3,-7,12,7,-4,17,1, 8,-5,13,5,-9,11,2,16,-1,6, 10,-6,4,14,-3,7,-8,1,-11,3,
  -13,-2,-7,-16,0,-10,-5,-18,-4,-12, -20,-6,-14,-1,-17,-9,-22,-3,-13,-8,
  -19,-5,-15,-11,-24,-2,-16,-10,-7,-21, -12,-4,-18,-9,-14,-23,-6,-11,-1,-17,
  -8,-20,-13,-3,-15,-10,-25,-5,-12,-18, -7,-16,-2,-21,-11,-14,-6,-19,-9,-13,
  -4,-17,-10,-22,-8,-15,0,-12,-18,-6, -14,-9,-20,-3,-11,-16,-7,-13,-2,-10,
  -15,-5,-12,-1,-9,-14,2,-6,-11,4, -3,-8,6,-1,-5,9,1,-4,11,-7,
  3,13,-2,8,-9,5,15,0,10,-5, 7,17,-3,4,12,-8,9,2,14,-1, 6,-10,11,3,16,-4,8,-12,5,13,
  -2,9,18,1,-6,11,4,15,-3,7, 12,-7,3,10,-11,6,14,0,8,-5, 16,2,-9,11,5,-3,13,-6,9,1]));
const elginC = series(-3.50, 0.025, [
  8,-12,3,15,-5,0,-18,6,11,-3, -9,4,19,-1,-14,7,2,-7,13,-20, 5,-4,10,-11,1,17,-6,3,-16,9,
  -2,12,-8,4,-21,6,0,14,-10,2, 7,-15,11,-3,5,-9,20,-1,8,-13, 3,-6,16,-11,1,9,-4,-17,6,12,
  -8,2,13,-5,-19,4,10,-2,7,-12, 15,-3,1,-14,8,-7,11,0,-10,5, -4,9,-16,3,-8,12,-1,-11,6,-6,
  -13,2,-9,-18,-3,7,-15,-7,-1,-12, -6,-20,-10,0,-14,-4,-17,-8,3,-12,
  -15,-5,-22,-9,1,-13,-7,-19,-3,-11, -8,-16,-2,-12,-21,-6,-10,4,-14,-9,
  -18,-4,-11,-7,-23,-1,-13,-9,-16,-5, -12,-2,-19,-8,-14,3,-10,-17,-6,-11,
  -4,-15,-9,-20,-1,-13,-7,-11,2,-16, -10,-5,-18,-8,-12,0,-14,-6,-21,-9,
  -3,-11,-7,-15,2,-9,-5,-13,1,-6, -8,4,-2,-12,6,-5,1,-9,9,-3,
  5,-7,12,0,-13,8,3,-4,16,-10, 2,11,-6,7,-15,4,-1,14,-8,6, -11,3,9,-3,18,1,-9,6,-17,10,
  0,-5,13,-14,4,8,-2,-19,5,11])
  .concat(series(-3.4875, 0.025, [
  -16,10,-5,21,2,-11,14,-20,6,-3, 17,-8,1,-15,11,-24,4,19,-6,9, -13,3,22,-9,7,-18,13,-2,-22,5,
  16,-11,0,12,-19,8,-4,23,-14,2, -7,18,-17,6,-1,14,-23,10,-9,4, 20,-12,3,-5,15,-21,9,-2,12,-16,
  1,24,-10,7,-19,11,-4,16,-13,5, -8,13,-22,2,18,-6,9,-15,0,21, -11,6,-3,14,-20,8,-14,3,-9,-25,
  -2,-17,10,-12,-28,-5,-15,4,-21,-8, -24,1,-13,-19,-6,-27,-10,-2,-22,-15,
  -4,-18,-26,-9,3,-20,-12,-29,-7,-16, -1,-23,-14,-8,-25,-3,-18,-11,-21,0,
  -16,-27,-6,-13,-20,-9,2,-24,-15,-5, -19,-12,-28,-4,-17,-8,-22,-1,-14,-26,
  -10,-3,-20,-13,4,-18,-7,-23,-11,1, -16,-5,-21,-9,6,-14,-2,-19,8,-11,
  3,-17,10,-6,15,-13,1,-22,7,-4, 12,-9,19,-1,-15,5,-20,14,-7,9,
  -12,17,0,-18,11,-5,22,-10,3,-14, 16,-3,8,-21,13,-8,4,-16,10,-1,
  20,-13,6,-6,15,-19,2,12,-9,18, -4,9,-15,14,1,-11,21,-7,5,-17]));
const elginD = series(-1.99, 0.022, [
  3,-4,8,1,-2,12,5,-6,2,9, -1,6,15,0,4,-3,7,2,-5,10, 4,-2,1,8,-4,3,0,-6,-1,-3,
  -5,-2,-8,-4,-9,-6,-11,-3,-12,-8, -10,-7,-14,-9,-5,-12,-16,-8,-11,-6,
  -13,-9,-17,-7,-11,-4,-14,-10,-19,-8, -12,-6,-15,-10,-8,-13,-3,-11,-16,-9,
  -7,-14,-10,-18,-6,-12,-9,-15,-11,-5, -13,-8,-16,-11,-4,-14,-9,-20,-10,-7,
  -12,-15,-8,-11,-17,-6,-13,-9,-3,-14, -10,-7,-16,-12,-8,-19,-11,-5,-13,-9,
  -15,-8,-12,-6,-10,-17,-9,-13,-4,-11, -8,-14,-10,-6,-12,-3,-9,-15,-7,-11,
  -5,-10,-2,-8,-6,-11,-1,-7,-4,-9, -3,1,-6,2,-4,5,-2,-8,3,-1,
  4,-3,7,0,-6,9,2,-4,5,12, -2,6,1,-7,10,3,-1,8,-5,4, 14,0,-4,7,2,-9,5,11,-2,3,
  -6,8,1,16,-3,4,-8,6,0,10, 2,-5,9,-1,5,13,-4,3,-7,7, 0,11,-3,6,-9,2,8,-2,17,4,
  -5,7,1,-3,10,3,-8,5,12,-1, 6,-4,9,0,-6,4,15,2,-2,8, 1,-7,5,11,-1,3,-5,9,0,6,
  -3,7,2,13,-2,4,-8,6,1,10])
  .concat(series(-1.979, 0.022, [
  9,-6,14,2,-3,11,-8,5,17,0, -5,7,12,-2,4,-10,8,1,13,-4, 6,-7,10,3,-1,8,-5,-9,2,-12,
  -4,-15,-7,-2,-13,-18,-6,-10,-21,-8, -14,-3,-19,-11,-24,-7,-16,-1,-12,-20,
  -9,-15,-5,-23,-13,-18,-2,-10,-26,-14, -6,-19,-11,-22,-4,-16,-8,-25,-12,-17,
  -3,-20,-9,-14,-27,-7,-15,-11,-21,-1, -13,-18,-5,-24,-10,-16,-8,-22,-2,-15,
  -11,-19,-6,-26,-13,-4,-17,-9,-23,-12, -1,-16,-20,-7,-14,-25,-10,-3,-18,-13,
  -8,-21,-5,-15,-11,-24,0,-12,-17,-6, -19,-9,-14,-2,-22,-10,-16,-4,-13,-7,
  -11,-1,-15,-5,-9,3,-12,-3,-7,5, -6,8,-2,-10,4,-4,10,0,-8,6,
  13,-3,2,9,-7,15,-1,5,-11,11, 3,-5,18,0,7,-9,12,-2,6,16, -4,9,1,-12,14,4,-6,10,-1,20,
  2,-8,11,5,-3,16,-10,7,0,13, -5,8,19,-2,4,-13,10,1,15,-6, 6,12,-4,2,17,-9,8,-1,14,3,
  -7,11,0,21,-3,6,-11,9,16,-2, 4,13,-8,7,1,18,-5,10,-1,14, 5,-10,12,2,-4,19,7,-6,11,0,
  15,-3,8,-9,13,3,-1,17,6,-5]));

const lightCurves = [bNiceA, bNiceB, bNiceC, bNiceD, bNiceE, bNiceF, bNiceG,
  tjoA, tjoB, tjoC, tjoD, tjoE, tjoF, tjoG, tjoH, tjoI,
  otA, rNiceA, rNiceB, rNiceC, rNiceE, rNiceF, rNiceG, rNiceH,
  mdoA, otB, otC, otD, elginA, elginB, elginC, elginD];

// ---- Layout ----
const plotLeft = 83, plotRight = 441, plotTop = 4.3, plotBottom = 1254;
const x = d3.scaleLinear().domain([-3.5, 3.5]).range([plotLeft, plotRight]);
const y = d3.scaleLinear().domain([0.966, 2.025]).range([plotBottom, plotTop]);
// Each light curve is shifted so they stack from 2.0 (top) down to 1.0 (bottom)
const offsetStep = 1 / (lightCurves.length - 1);
const offsetOf = i => 2 - i * offsetStep;

const svg = d3.select("#chart");
svg.append("defs").append("clipPath").attr("id", "plot-clip")
  .append("rect").attr("x", plotLeft).attr("y", plotTop)
  .attr("width", plotRight - plotLeft).attr("height", plotBottom - plotTop);

const plot = svg.append("g").attr("clip-path", "url(#plot-clip)");

// Photometry points
lightCurves.forEach((pts, i) => {
  const off = offsetOf(i);
  plot.append("g")
    .attr("fill", bandColor[bands[i]])
    .attr("fill-opacity", 0.75)
    .selectAll("circle").data(pts).join("circle")
    .attr("cx", d => x(d[0]))
    .attr("cy", d => y(off + d[1] / 1000))
    .attr("r", 2.3);
});

// Transit model over each light curve
const model = modelHours.map((t, k) => [t, modelPpt[k]]);
lightCurves.forEach((pts, i) => {
  const off = offsetOf(i);
  const line = d3.line()
    .x(d => x(d[0]))
    .y(d => y(off + d[1] / 1000))
    .curve(d3.curveMonotoneX);
  plot.append("path").datum(model)
    .attr("d", line)
    .attr("fill", "none")
    .attr("stroke", "#000")
    .attr("stroke-width", 2.1);
});

// Axes
const fontSize = 23;
const yAxis = svg.append("g").attr("transform", `translate(${plotLeft},0)`)
  .call(d3.axisLeft(y).tickValues(yTicks).tickFormat(d3.format(".1f")).tickSize(6).tickPadding(4));
const xAxis = svg.append("g").attr("transform", `translate(0,${plotBottom})`)
  .call(d3.axisBottom(x).tickValues(xTicks).tickFormat(d => d < 0 ? "\u2212" + Math.abs(d) : d).tickSize(-6).tickPadding(5));
const xTop = svg.append("g").attr("transform", `translate(0,${plotTop})`)
  .call(d3.axisTop(x).tickValues(xTicks).tickFormat("").tickSize(-6));
[yAxis, xAxis, xTop].forEach(g => {
  g.select(".domain").remove();
  g.selectAll(".tick line").attr("stroke", "#222").attr("stroke-width", 1.1);
  g.selectAll(".tick text").attr("font-size", fontSize).attr("font-family", "DejaVu Sans").attr("fill", "#000");
});

// Frame
svg.append("rect")
  .attr("x", plotLeft).attr("y", plotTop)
  .attr("width", plotRight - plotLeft).attr("height", plotBottom - plotTop)
  .attr("fill", "none").attr("stroke", "#333").attr("stroke-width", 1.1);

// Band and observatory labels
const labels = svg.append("g").attr("font-size", fontSize);
bands.forEach((b, i) => {
  const ly = y(offsetOf(i)) - 8;
  labels.append("text").attr("x", plotRight - 3.5).attr("y", ly)
    .attr("text-anchor", "end").text(b);
  labels.append("text").attr("x", plotRight + 11).attr("y", ly)
    .attr("text-anchor", "start").text(sites[i]);
});

// Axis titles
svg.append("text").attr("x", (plotLeft + plotRight) / 2).attr("y", 1303.5)
  .attr("text-anchor", "middle").attr("font-size", fontSize)
  .text("Time [hours from mid-transit]");
svg.append("text")
  .attr("transform", `translate(25,${(plotTop + plotBottom) / 2}) rotate(-90)`)
  .attr("text-anchor", "middle").attr("font-size", fontSize)
  .text("Relative flux");
</script>
</body>
</html>
